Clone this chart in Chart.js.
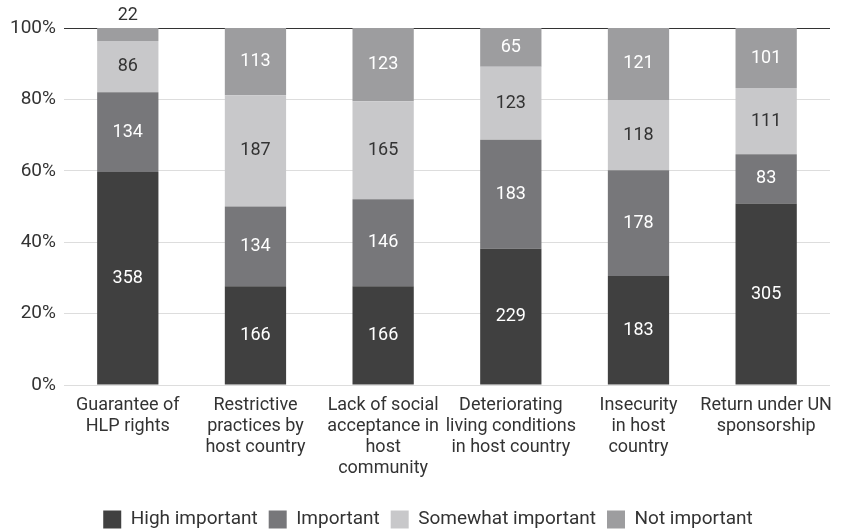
<!DOCTYPE html>
<html>
<head>
<meta charset="utf-8">
<script src="https://cdn.jsdelivr.net/npm/chart.js@4"></script>
<style>
  html, body { margin: 0; padding: 0; background: #fff; }
  #wrap { width: 846px; height: 532px; }
</style>
</head>
<body>
<div id="wrap"><canvas id="chart" width="846" height="532"></canvas></div>
<script>
const categories = [
  ['Guarantee of', 'HLP rights'],
  ['Restrictive', 'practices by', 'host country'],
  ['Lack of social', 'acceptance in', 'host', 'community'],
  ['Deteriorating', 'living conditions', 'in host country'],
  ['Insecurity', 'in host', 'country'],
  ['Return under UN', 'sponsorship']
];
const highImportant = [358, 166, 166, 229, 183, 305];
const important = [134, 134, 146, 183, 178, 83];
const somewhatImportant = [86, 187, 165, 123, 118, 111];
const notImportant = [22, 113, 123, 65, 121, 101];
const yTicks = [0, 20, 40, 60, 80, 100];

const seriesNames = ['High important', 'Important', 'Somewhat important', 'Not important'];
const seriesCounts = [highImportant, important, somewhatImportant, notImportant];
const seriesColors = ['#404040', '#77777a', '#c8c8ca', '#9d9d9f'];
const labelColors = ['#ffffff', '#ffffff', '#333333', '#ffffff'];

const totals = categories.map((c, i) => seriesCounts.reduce((s, arr) => s + arr[i], 0));

const datasets = seriesNames.map((name, k) => ({
  label: name,
  data: seriesCounts[k].map((v, i) => v / totals[i] * 100),
  counts: seriesCounts[k],
  backgroundColor: seriesColors[k],
  borderWidth: 0,
  barPercentage: 1,
  categoryPercentage: 0.48
}));

// draws the raw counts inside each segment (above the stack when too small)
const valueLabels = {
  id: 'valueLabels',
  afterDatasetsDraw(chart) {
    const ctx = chart.ctx;
    ctx.save();
    ctx.font = '18px Roboto';
    ctx.textAlign = 'center';
    ctx.textBaseline = 'middle';
    chart.data.datasets.forEach((ds, k) => {
      const meta = chart.getDatasetMeta(k);
      meta.data.forEach((bar, i) => {
        const h = Math.abs(bar.base - bar.y);
        if (h < 20) {
          ctx.fillStyle = '#333333';
          ctx.fillText(ds.counts[i], bar.x, bar.y - 13);
        } else {
          ctx.fillStyle = labelColors[k];
          ctx.fillText(ds.counts[i], bar.x, (bar.y + bar.base) / 2);
        }
      });
    });
    ctx.restore();
  }
};

// fixed legend height so the legend row sits near the bottom edge,
// and nudge it right so it is centred on the page
const legendTweak = {
  id: 'legendTweak',
  afterInit(chart) {
    const lg = chart.legend;
    if (!lg) return;
    const fit = lg.fit;
    lg.fit = function() {
      fit.call(this);
      this.height = 33;
    };
  },
  afterLayout(chart) {
    const lg = chart.legend;
    if (!lg) return;
    lg.left += 12;
    lg.right += 12;
  }
};

new Chart(document.getElementById('chart'), {
  type: 'bar',
  data: { labels: categories, datasets: datasets },
  options: {
    responsive: false,
    animation: false,
    layout: { padding: { top: 28, right: 16, left: 2, bottom: 0 } },
    scales: {
      x: {
        stacked: true,
        grid: { display: false },
        border: { display: false },
        ticks: {
          color: '#333',
          font: { family: 'Roboto', size: 18, lineHeight: 1.17 },
          maxRotation: 0,
          autoSkip: false,
          padding: 2
        },
        // leave room between the category labels and the legend
        afterFit(axis) { axis.height = 114; }
      },
      y: {
        stacked: true,
        min: 0,
        max: 100,
        afterBuildTicks(axis) { axis.ticks = yTicks.map(v => ({ value: v })); },
        grid: {
          color: ctx => ctx.tick && ctx.tick.value === 100 ? '#333333' : '#dddddd',
          lineWidth: 1,
          drawTicks: false
        },
        border: { display: false },
        ticks: {
          color: '#333',
          font: { family: 'Roboto', size: 19 },
          padding: 8,
          callback: v => v + '%'
        }
      }
    },
    plugins: {
      legend: {
        position: 'bottom',
        labels: {
          color: '#333',
          font: { family: 'Roboto', size: 19 },
          boxWidth: 18,
          boxHeight: 18,
          padding: 11
        }
      },
      tooltip: { enabled: false }
    }
  },
  plugins: [valueLabels, legendTweak]
});
</script>
</body>
</html>
